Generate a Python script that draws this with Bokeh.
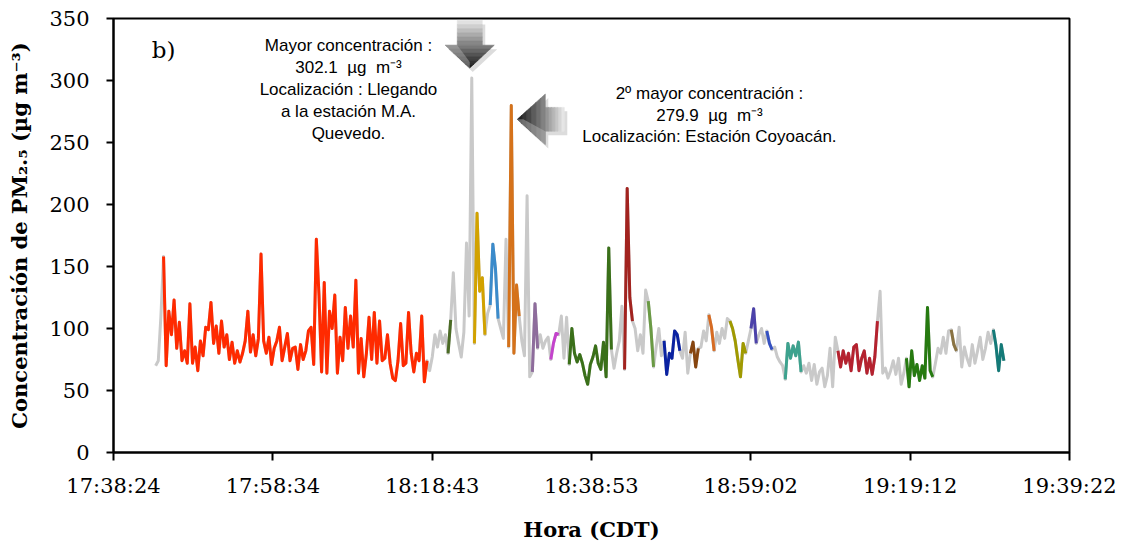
from bokeh.plotting import figure
from bokeh.models import Range1d, FixedTicker, CustomJSTickFormatter, Label
from bokeh.embed import file_html
from bokeh.resources import INLINE

# ---------------------------------------------------------------- data
TIME_TICKS = ["17:38:24", "17:58:34", "18:18:43", "18:38:53",
              "18:59:02", "19:19:12", "19:39:22"]
Y_TICKS = [0, 50, 100, 150, 200, 250, 300, 350]

FIRST_SAMPLE = "17:43:44"
SAMPLE_STEP_S = 20

# PM2.5 (ug m-3) along the route; transit stretches alternate with station stretches
transit_00 = [70, 74, 110]
station_01 = [158, 70, 114, 95, 123, 84, 105, 74, 82, 72, 120, 72, 85, 66, 90,
              78, 101, 99, 121, 88, 102, 80, 106, 85, 95, 75, 89, 72, 82, 73,
              80, 90, 114, 81, 95, 78, 92, 160, 90, 80, 93, 71, 84, 90, 101,
              74, 85, 96, 74, 84,
              85, 67, 87, 75, 82, 98, 101, 71, 172, 127, 65, 137, 64, 114, 100,
              127, 64, 93, 74, 117, 84, 110, 85, 139, 64, 92, 61, 80, 109, 75,
              113, 72, 106, 74, 76, 95, 72, 60, 58, 74, 104, 70, 72, 113, 80,
              65, 80, 74, 110, 57, 74]
transit_01 = [66, 77, 95, 85, 98, 88, 95]
station_02 = [80, 107]
transit_02 = [145, 100, 88, 77, 97, 169, 110, 302.1]
station_03 = [88, 193, 130, 141, 95]
transit_03 = [112]
station_04 = [119, 168, 148, 108]
transit_04 = [100, 92, 172]
station_05 = [85, 279.9, 80, 135, 110]
transit_05 = [90, 78, 207, 61]
station_06 = [65, 120, 84]
transit_06 = [95, 84, 90, 93]
station_07 = [75, 88, 96, 95]
transit_07 = [110, 76, 109]
station_08 = [71, 100, 80, 73, 79, 72, 62, 55, 71, 77, 86, 72, 67, 89, 61, 165, 83]
transit_08 = [68, 80, 90, 118]
station_09 = [67, 213, 125, 106]
transit_09 = [100, 82, 95, 80, 131]
station_10 = [122, 100, 69]
transit_10 = [85, 100, 78]
station_11 = [90, 63, 80, 76, 98, 95, 82]
transit_11 = [76, 97, 64]
station_12 = [80, 89, 69, 84]
transit_12 = [85, 98, 90]
station_13 = [111, 101, 82]
transit_13 = [97, 88, 100, 92, 108]
station_14 = [106, 100, 90, 75, 61, 88, 80]
transit_14 = [90]
station_15 = [100, 116, 88]
transit_15 = [95, 100, 88]
station_16 = [98, 88, 83]
transit_16 = [85, 77, 73, 70]
station_17 = [59, 88, 76, 86, 78, 89, 65]
transit_17 = [70, 64, 72, 58, 71, 55, 65, 68, 53, 62, 84, 53, 93]
station_18 = [82, 69, 82, 72, 80, 66, 85, 87, 66, 76, 82, 64, 76, 63, 77, 106]
transit_18 = [130, 64, 68, 60, 66, 74, 63, 76, 55, 64]
station_19 = [76, 53, 82, 62, 71, 58, 70, 60, 117, 66, 61]
transit_19 = [72, 84, 80, 93, 80, 98]
station_20 = [99, 87, 82]
transit_20 = [101, 69, 85, 76, 70, 87, 72, 82, 93, 75, 84, 97, 88]
station_21 = [99, 86, 66, 87, 74]

TRANSITS = [transit_00, transit_01, transit_02, transit_03, transit_04, transit_05,
            transit_06, transit_07, transit_08, transit_09, transit_10, transit_11,
            transit_12, transit_13, transit_14, transit_15, transit_16, transit_17,
            transit_18, transit_19, transit_20]
STATIONS = [station_01, station_02, station_03, station_04, station_05, station_06,
            station_07, station_08, station_09, station_10, station_11, station_12,
            station_13, station_14, station_15, station_16, station_17, station_18,
            station_19, station_20, station_21]

# ---------------------------------------------------------------- styles
STATION_COLORS = ["#FF2A00", "#4B6B25", "#D2A200", "#3B8BCB", "#D5721A", "#8E6C9C",
                  "#C443CC", "#3A7019", "#A2231F", "#6A9A44", "#0A22A2", "#87450F",
                  "#D76B22", "#A09A00", "#4C42AA", "#3551C2", "#3DA28E", "#B5222F",
                  "#267A10", "#8A7342", "#147A78"]
TRANSIT_COLOR = "#C9C9C9"
LINE_W = 3
NBSP = "\u00a0"


def hms(s):
    h, m, sec = (int(v) for v in s.split(":"))
    return h * 3600 + m * 60 + sec


tick_s = [hms(t) for t in TIME_TICKS]
t0 = hms(FIRST_SAMPLE)

# assemble the full series and remember where every station stretch sits
values, spans = [], []
for k, tr in enumerate(TRANSITS):
    values.extend(tr)
    st = STATIONS[k]
    spans.append((len(values), len(values) + len(st)))
    values.extend(st)
times = [t0 + i * SAMPLE_STEP_S for i in range(len(values))]

W, H = 1122, 544
LEFT, RIGHT, TOP, BOTTOM = 113, 53, 18, 88
FW, FH = W - LEFT - RIGHT, H - TOP - BOTTOM

p = figure(width=W, height=H, output_backend="svg", toolbar_location=None,
           x_range=Range1d(tick_s[0], tick_s[-1]), y_range=Range1d(Y_TICKS[0], Y_TICKS[-1]),
           min_border_left=LEFT, min_border_right=RIGHT,
           min_border_top=TOP, min_border_bottom=BOTTOM)
p.grid.visible = False
p.background_fill_color = "white"
p.border_fill_color = "white"
p.outline_line_color = "black"
p.outline_line_width = 2

xr0, xr1 = tick_s[0], tick_s[-1]
yr0, yr1 = Y_TICKS[0], Y_TICKS[-1]
SEC_PER_PX = (xr1 - xr0) / FW
VAL_PER_PX = (yr1 - yr0) / FH


def fx(f):
    return xr0 + f * (xr1 - xr0)


def fy(f):
    return yr0 + f * (yr1 - yr0)


# whole route in grey, stations on top in their own colours
p.line(times, values, line_color=TRANSIT_COLOR, line_width=LINE_W, line_join="round")
for (a, b), col in zip(spans, STATION_COLORS):
    p.line(times[a:b], values[a:b], line_color=col, line_width=LINE_W, line_join="round")

# axes
SERIF = "DejaVu Serif"
xa, ya = p.xaxis[0], p.yaxis[0]
for ax in (xa, ya):
    ax.axis_line_width = 2
    ax.axis_line_color = "black"
    ax.major_tick_line_width = 2
    ax.major_tick_line_color = "black"
    ax.major_tick_in = 0
    ax.minor_tick_line_color = None
    ax.major_label_text_font = SERIF
    ax.major_label_text_font_size = "21px"
    ax.major_label_text_color = "black"
    ax.axis_label_text_font = SERIF
    ax.axis_label_text_font_style = "bold"
    ax.axis_label_text_font_size = "21px"
    ax.axis_label_text_color = "black"

xa.ticker = FixedTicker(ticks=tick_s)
xa.formatter = CustomJSTickFormatter(code="""
    const s = Math.round(tick);
    const h = Math.floor(s / 3600), m = Math.floor((s % 3600) / 60), x = s % 60;
    const pad = v => String(v).padStart(2, '0');
    return h + ':' + pad(m) + ':' + pad(x);
""")
xa.major_tick_out = 8
xa.major_label_standoff = 13
xa.axis_label = "Hora (CDT)"
xa.axis_label_standoff = 16

ya.ticker = FixedTicker(ticks=Y_TICKS)
ya.major_tick_out = 7
ya.major_label_standoff = 17
ya.axis_label = "Concentración de PM₂.₅ (µg m⁻³)"
ya.axis_label_standoff = 14


# ---------------------------------------------------------------- arrows
def hexgray(v):
    v = max(0, min(255, int(round(v))))
    return "#%02x%02x%02x" % (v, v, v)


def shaded_arrow(tip_x, tip_y, pts_bands, cols, shadow):
    """pts_bands: list of polygons in pixel offsets from the tip (dx right, dy down)."""
    xs, ys = [], []
    for poly in pts_bands:
        xs.append([tip_x + dx * SEC_PER_PX for dx, dy in poly])
        ys.append([tip_y - dy * VAL_PER_PX for dx, dy in poly])
    sx = [[tip_x + (dx + 3) * SEC_PER_PX for dx, dy in shadow]]
    sy = [[tip_y - (dy + 4) * VAL_PER_PX for dx, dy in shadow]]
    p.patches(sx, sy, fill_color="#9a9a9a", fill_alpha=0.35, line_color=None)
    p.patches(xs, ys, fill_color=cols, line_color=cols, line_width=0.6)


def down_arrow(tip_x, tip_y):
    shaft_hw, head_hw, head_len, shaft_len = 12.5, 24.5, 23, 25
    bands, cols = [], []
    n = 6
    for k in range(n):
        y_a = -head_len - shaft_len + k * shaft_len / n
        y_b = y_a + shaft_len / n
        bands.append([(-shaft_hw, y_a), (shaft_hw, y_a), (shaft_hw, y_b), (-shaft_hw, y_b)])
        cols.append(hexgray(225 - 90 * k / (n - 1)))
    for k in range(n):
        y_a = -head_len + k * head_len / n
        y_b = y_a + head_len / n
        w_a = head_hw * (-y_a) / head_len
        w_b = head_hw * (-y_b) / head_len
        bands.append([(-w_a, y_a), (w_a, y_a), (w_b, y_b), (-w_b, y_b)])
        cols.append(hexgray(120 - 90 * k / (n - 1)))
    outline = [(-shaft_hw, -head_len - shaft_len), (shaft_hw, -head_len - shaft_len),
               (shaft_hw, -head_len), (head_hw, -head_len), (0, 0),
               (-head_hw, -head_len), (-shaft_hw, -head_len)]
    shaded_arrow(tip_x, tip_y, bands, cols, outline)
    # bevel highlight on the head
    bev = [(-head_hw, -head_len), (-shaft_hw, -head_len), (0, -6), (0, 0)]
    p.patches([[tip_x + dx * SEC_PER_PX for dx, dy in bev]],
              [[tip_y - dy * VAL_PER_PX for dx, dy in bev]],
              fill_color="#b5b5b5", fill_alpha=0.45, line_color=None)


def left_arrow(tip_x, tip_y):
    shaft_hh, head_hh, head_len, shaft_len = 12, 25.5, 28, 19
    bands, cols = [], []
    n = 6
    for k in range(n):
        x_a = head_len + shaft_len - k * shaft_len / n
        x_b = x_a - shaft_len / n
        bands.append([(x_a, -shaft_hh), (x_a, shaft_hh), (x_b, shaft_hh), (x_b, -shaft_hh)])
        cols.append(hexgray(230 - 80 * k / (n - 1)))
    for k in range(n):
        x_a = head_len - k * head_len / n
        x_b = x_a - head_len / n
        h_a = head_hh * x_a / head_len
        h_b = head_hh * x_b / head_len
        bands.append([(x_a, -h_a), (x_a, h_a), (x_b, h_b), (x_b, -h_b)])
        cols.append(hexgray(130 - 95 * k / (n - 1)))
    outline = [(head_len + shaft_len, -shaft_hh), (head_len + shaft_len, shaft_hh),
               (head_len, shaft_hh), (head_len, head_hh), (0, 0),
               (head_len, -head_hh), (head_len, -shaft_hh)]
    shaded_arrow(tip_x, tip_y, bands, cols, outline)
    bev = [(head_len, head_hh), (head_len, shaft_hh), (6, 0), (0, 0)]
    p.patches([[tip_x + dx * SEC_PER_PX for dx, dy in bev]],
              [[tip_y - dy * VAL_PER_PX for dx, dy in bev]],
              fill_color="#b8b8b8", fill_alpha=0.45, line_color=None)


# arrows point at the two highest readings
i_max = max(range(len(values)), key=lambda i: values[i])
i_2nd = max((i for i in range(len(values)) if abs(i - i_max) > 3), key=lambda i: values[i])
down_arrow(times[i_max] - 2 * SEC_PER_PX, values[i_max] + 10 * VAL_PER_PX)
left_arrow(times[i_2nd] + 6 * SEC_PER_PX, values[i_2nd] - 14 * VAL_PER_PX)

# ---------------------------------------------------------------- texts
SANS = "Liberation Sans"


def note(text, fxv, fyv, size="17px", align="center", font=SANS):
    p.add_layout(Label(x=fx(fxv), y=fy(fyv), text=text, text_align=align,
                       text_baseline="middle", text_font=font,
                       text_font_size=size, text_color="black"))


def conc(v):
    gap = NBSP * 2
    return f"{v}{gap}µg{gap}m⁻³"


note("b)", 0.040, 0.928, size="23px", align="left", font=SERIF)

lines_1 = ["Mayor concentración :", conc(values[i_max]),
           "Localización : Llegando", "a la estación M.A.", "Quevedo."]
for k, t in enumerate(lines_1):
    note(t, 0.2458, (411 - k * 22.2) / FH)

lines_2 = ["2º mayor concentración :", conc(values[i_2nd]),
           "Localización: Estación Coyoacán."]
for k, t in enumerate(lines_2):
    note(t, 0.6234, (362 - k * 21.5) / FH)

open("out.html", "w").write(file_html(p, INLINE))
